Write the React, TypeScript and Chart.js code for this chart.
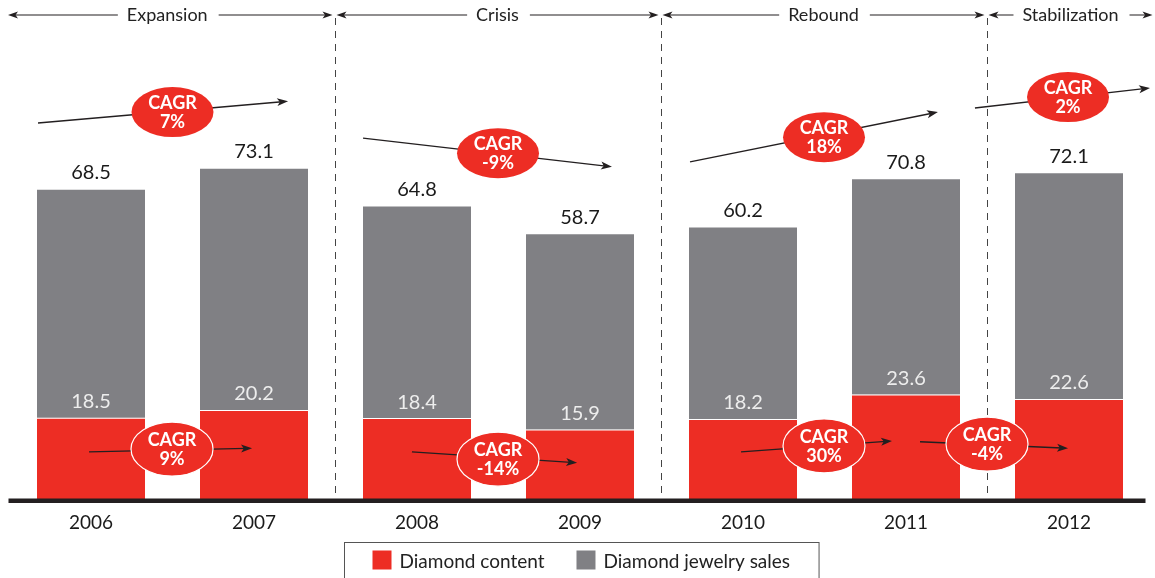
import React, { useEffect, useRef } from 'react';
import { Chart, registerables } from 'chart.js';

Chart.register(...registerables);

const years = ['2006', '2007', '2008', '2009', '2010', '2011', '2012'];
const diamondContent = [18.5, 20.2, 18.4, 15.9, 18.2, 23.6, 22.6];
const jewelrySales = [68.5, 73.1, 64.8, 58.7, 60.2, 70.8, 72.1];
const phaseNames = ['Expansion', 'Crisis', 'Rebound', 'Stabilization'];
const phaseFirst = [0, 2, 4, 6];
const phaseLast = [1, 3, 5, 6];
const salesCagr = ['7%', '-9%', '18%', '2%'];
const contentCagr = ['9%', '-14%', '30%', '-4%'];
const seriesNames = ['Diamond content', 'Diamond jewelry sales'];

// annotation geometry in data coordinates: [category index, value]
const salesCagrGeom = [
  { from: [-0.325, 83.1], to: [1.209, 87.9], at: [0.5, 85.5] },
  { from: [1.669, 79.8], to: [3.196, 73.5], at: [2.497, 76.5] },
  { from: [3.675, 74.6], to: [5.196, 85.5], at: [4.497, 80.0] },
  { from: [5.423, 86.4], to: [6.497, 90.8], at: [5.994, 88.8] },
];
const contentCagrGeom = [
  { from: [-0.012, 11.0], to: [0.988, 11.8], at: [0.497, 11.6] },
  { from: [1.969, 11.0], to: [2.982, 8.6], at: [2.497, 9.4] },
  { from: [3.988, 11.0], to: [4.914, 13.4], at: [4.497, 12.3] },
  { from: [5.086, 13.2], to: [5.994, 11.8], at: [5.497, 12.7] },
];

const RED = '#ED2D24';
const GRAY = '#808084';
const INK = '#231F20';
const FONT = 'Lato';

function arrowHead(ctx: CanvasRenderingContext2D, x1: number, y1: number, x2: number, y2: number, len = 11, hw = 4) {
  const a = Math.atan2(y2 - y1, x2 - x1);
  ctx.beginPath();
  ctx.moveTo(x2, y2);
  ctx.lineTo(x2 - len * Math.cos(a) + hw * Math.sin(a), y2 - len * Math.sin(a) - hw * Math.cos(a));
  ctx.lineTo(x2 - len * 0.75 * Math.cos(a), y2 - len * 0.75 * Math.sin(a));
  ctx.lineTo(x2 - len * Math.cos(a) - hw * Math.sin(a), y2 - len * Math.sin(a) + hw * Math.cos(a));
  ctx.closePath();
  ctx.fill();
}

const overlayPlugin = {
  id: 'overlay',
  beforeDatasetsDraw(chart: any) {
    const { ctx, scales } = chart;
    const xs = scales.x;
    ctx.save();
    ctx.strokeStyle = '#444';
    ctx.lineWidth = 1;
    ctx.setLineDash([7, 6]);
    for (let p = 1; p < phaseFirst.length; p++) {
      const x = Math.round(xs.getPixelForValue(phaseFirst[p] - 0.5)) - 0.5;
      ctx.beginPath();
      ctx.moveTo(x, 18);
      ctx.lineTo(x, 498);
      ctx.stroke();
    }
    ctx.restore();
  },
  afterDatasetsDraw(chart: any) {
    const { ctx, scales, chartArea } = chart;
    const xs = scales.x;
    const ys = scales.y;
    const P = (pt: number[]) => [xs.getPixelForValue(pt[0]), ys.getPixelForValue(pt[1])];
    ctx.save();

    // value labels
    ctx.textAlign = 'center';
    ctx.textBaseline = 'middle';
    ctx.font = `20px ${FONT}`;
    years.forEach((_, i) => {
      const x = xs.getPixelForValue(i);
      ctx.fillStyle = '#1A1A1A';
      ctx.fillText(jewelrySales[i].toFixed(1), x, ys.getPixelForValue(jewelrySales[i]) - 17);
      ctx.fillStyle = '#EDEDED';
      ctx.fillText(diamondContent[i].toFixed(1), x, ys.getPixelForValue(diamondContent[i]) - 16);
    });

    // baseline
    ctx.fillStyle = INK;
    ctx.fillRect(chartArea.left - 1, 498.5, chartArea.right - chartArea.left - 4, 4.5);

    // CAGR annotations
    const drawCagr = (geom: any[], labels: string[], outline: boolean) => {
      geom.forEach((g, i) => {
        const [x1, y1] = P(g.from);
        const [x2, y2] = P(g.to);
        const [cx, cy] = P(g.at);
        const a = Math.atan2(y2 - y1, x2 - x1);
        ctx.strokeStyle = INK;
        ctx.fillStyle = INK;
        ctx.lineWidth = 1.4;
        ctx.beginPath();
        ctx.moveTo(x1, y1);
        ctx.lineTo(x2 - 6 * Math.cos(a), y2 - 6 * Math.sin(a));
        ctx.stroke();
        arrowHead(ctx, x1, y1, x2, y2);
        ctx.beginPath();
        ctx.ellipse(cx, cy, 41, outline ? 27 : 25, 0, 0, Math.PI * 2);
        ctx.fillStyle = RED;
        ctx.fill();
        if (outline) {
          ctx.strokeStyle = '#FFFFFF';
          ctx.lineWidth = 1.2;
          ctx.stroke();
        }
        ctx.fillStyle = '#FFFFFF';
        ctx.font = `bold 18px ${FONT}`;
        ctx.textAlign = 'center';
        ctx.textBaseline = 'middle';
        ctx.fillText('CAGR', cx, cy - 9);
        ctx.fillText(labels[i], cx, cy + 10);
      });
    };
    drawCagr(salesCagrGeom, salesCagr, false);
    drawCagr(contentCagrGeom, contentCagr, true);

    // phase header
    const hy = 15;
    ctx.font = `18px ${FONT}`;
    phaseNames.forEach((name, p) => {
      const left = xs.getPixelForValue(phaseFirst[p] - 0.5) + (p === 0 ? -1.5 : 1);
      const right = xs.getPixelForValue(phaseLast[p] + 0.5) - (p === phaseNames.length - 1 ? -2 : 3);
      const mid = (left + right) / 2 - (p === 0 ? 3 : 0);
      const w = ctx.measureText(name).width;
      ctx.fillStyle = '#222';
      ctx.textAlign = 'center';
      ctx.textBaseline = 'middle';
      ctx.fillText(name, mid, hy);
      ctx.strokeStyle = INK;
      ctx.fillStyle = INK;
      ctx.lineWidth = 1.2;
      const tl = mid - w / 2 - 9;
      const tr = mid + w / 2 + 11;
      ctx.beginPath();
      ctx.moveTo(tl, hy);
      ctx.lineTo(left + 6, hy);
      ctx.moveTo(tr, hy);
      ctx.lineTo(right - 6, hy);
      ctx.stroke();
      arrowHead(ctx, tl, hy, left, hy, 10, 3.5);
      arrowHead(ctx, tr, hy, right, hy, 10, 3.5);
    });

    // legend
    ctx.font = `19px ${FONT}`;
    const colors = [RED, GRAY];
    const sq = 19, gapT = 8, gapItem = 32, padL = 28, padR = 29;
    const widths = seriesNames.map((n) => ctx.measureText(n).width);
    const total = padL + sq + gapT + widths[0] + gapItem + sq + gapT + widths[1] + padR;
    const cxL = 581.5;
    const bx = Math.round(cxL - total / 2) + 0.5;
    ctx.strokeStyle = '#555';
    ctx.lineWidth = 1;
    ctx.strokeRect(bx, 542.5, total, 60);
    let x = bx + padL;
    const ly = 560;
    seriesNames.forEach((n, i) => {
      ctx.fillStyle = colors[i];
      ctx.fillRect(x, ly - 9.5, sq, sq);
      x += sq + gapT;
      ctx.fillStyle = '#222';
      ctx.textAlign = 'left';
      ctx.textBaseline = 'middle';
      ctx.fillText(n, x, ly + 2);
      x += widths[i] + gapItem;
    });

    ctx.restore();
  },
};

export default function App() {
  const ref = useRef<HTMLCanvasElement>(null);
  useEffect(() => {
    if (!ref.current) return;
    const gray = jewelrySales.map((v, i) => +(v - diamondContent[i]).toFixed(1));
    const chart = new Chart(ref.current, {
      type: 'bar',
      data: {
        labels: years,
        datasets: [
          {
            label: seriesNames[0],
            data: diamondContent,
            backgroundColor: RED,
            borderColor: '#FFFFFF',
            borderWidth: { top: 1, left: 0, right: 0, bottom: 0 },
            borderSkipped: false,
            categoryPercentage: 1,
            barPercentage: 108 / 163,
          },
          {
            label: seriesNames[1],
            data: gray,
            backgroundColor: GRAY,
            borderWidth: 0,
            categoryPercentage: 1,
            barPercentage: 108 / 163,
          },
        ],
      },
      options: {
        responsive: false,
        animation: false,
        devicePixelRatio: 1,
        layout: { padding: { left: 9.5, right: 4.5, top: 46, bottom: 0 } },
        plugins: { legend: { display: false }, tooltip: { enabled: false } },
        scales: {
          x: {
            stacked: true,
            grid: { display: false, drawTicks: false },
            border: { display: false },
            ticks: { color: '#1A1A1A', font: { family: FONT, size: 19 }, padding: 9 },
            afterFit: (s: any) => {
              s.height = 76;
            },
          },
          y: { stacked: true, display: false, min: 0, max: 100 },
        },
      },
      plugins: [overlayPlugin],
    });
    return () => chart.destroy();
  }, []);
  return (
    <div style={{ position: 'absolute', left: 0, top: 0, width: 1155, height: 578, overflow: 'hidden', background: '#fff' }}>
      <canvas ref={ref} width={1155} height={578} />
    </div>
  );
}
